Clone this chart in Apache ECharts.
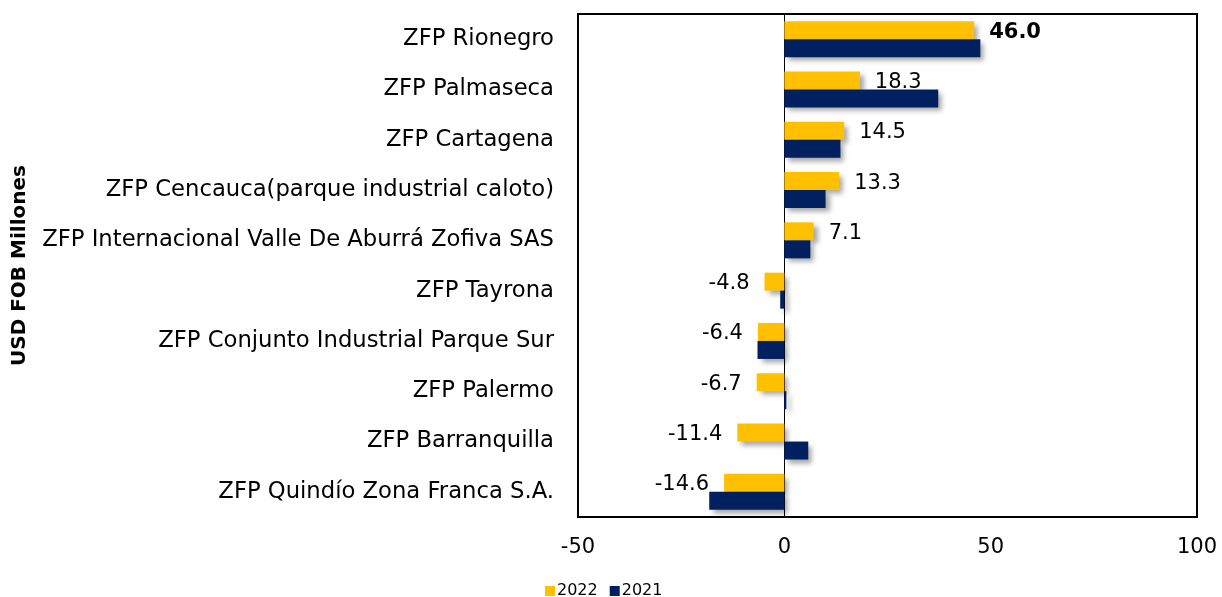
<!DOCTYPE html>
<html>
<head>
	<meta charset="utf-8">
	<script type="text/javascript" src="https://cdn.jsdelivr.net/npm/echarts@6/dist/echarts.min.js"></script>
	<style>
		html, body { margin: 0; padding: 0; background: #fff; }
	</style>
</head>
<body>
<div id="main" style="width:1222px;height:597px;"></div>
<script type="text/javascript">
  // zonas francas, de arriba hacia abajo
  var zonas = [
    'ZFP Rionegro',
    'ZFP Palmaseca',
    'ZFP Cartagena',
    'ZFP Cencauca(parque industrial caloto)',
    'ZFP Internacional Valle De Aburrá Zofiva SAS',
    'ZFP Tayrona',
    'ZFP Conjunto Industrial Parque Sur',
    'ZFP Palermo',
    'ZFP Barranquilla',
    'ZFP Quindío Zona Franca S.A.'
  ];
  var valores2022 = [46.0, 18.3, 14.5, 13.3, 7.1, -4.8, -6.4, -6.7, -11.4, -14.6];
  var valores2021 = [47.5, 37.3, 13.6, 10.0, 6.3, -1.0, -6.5, 0.5, 5.8, -18.2];
  var ticksX = { min: -50, max: 100, interval: 50 };

  var fuente = 'DejaVu Sans';
  var sombra = {
    shadowBlur: 5,
    shadowOffsetX: 4,
    shadowOffsetY: 4,
    shadowColor: 'rgba(0,0,0,0.35)'
  };

  var datos2022 = valores2022.map(function (v, i) {
    return {
      value: v,
      label: {
        position: v < 0 ? 'left' : 'right',
        fontWeight: i === 0 ? 'bold' : 'normal'
      }
    };
  });

  var chart = echarts.init(document.getElementById('main'));
  var option = {
    animation: false,
    textStyle: { fontFamily: fuente },
    grid: {
      left: 578, right: 25, top: 14, bottom: 80,
      show: true, borderColor: '#000', borderWidth: 2
    },
    legend: {
      left: 540, top: 578,
      itemWidth: 10, itemHeight: 10, itemGap: 12,
      icon: 'rect',
      textStyle: { fontFamily: fuente, fontSize: 16, color: '#000', padding: [0, 0, 0, -3] },
      data: ['2022', '2021']
    },
    xAxis: {
      type: 'value',
      min: ticksX.min, max: ticksX.max, interval: ticksX.interval,
      splitLine: { show: false },
      axisLine: { show: false },
      axisTick: { show: false },
      axisLabel: { color: '#000', fontSize: 21, margin: 20 }
    },
    yAxis: {
      type: 'category',
      inverse: true,
      data: zonas,
      name: 'USD FOB Millones',
      nameLocation: 'middle',
      nameGap: 548,
      nameTextStyle: { fontFamily: fuente, fontWeight: 'bold', fontSize: 20, color: '#000' },
      axisLine: { onZero: true, lineStyle: { color: '#000', width: 1 } },
      axisTick: { show: false },
      axisLabel: { color: '#000', fontSize: 22.7, margin: 24 }
    },
    series: [
      {
        name: '2022',
        type: 'bar',
        data: datos2022,
        barWidth: 18,
        barGap: '0%',
        itemStyle: Object.assign({ color: '#FFC000' }, sombra),
        label: {
          show: true,
          distance: 15,
          offset: [0, 2],
          color: '#000',
          fontSize: 21,
          fontFamily: fuente,
          formatter: function (p) { return p.value.toFixed(1); }
        }
      },
      {
        name: '2021',
        type: 'bar',
        data: valores2021,
        barWidth: 18,
        barGap: '0%',
        itemStyle: Object.assign({ color: '#002060' }, sombra)
      }
    ]
  };
  chart.setOption(option);
</script>
</body>
</html>
